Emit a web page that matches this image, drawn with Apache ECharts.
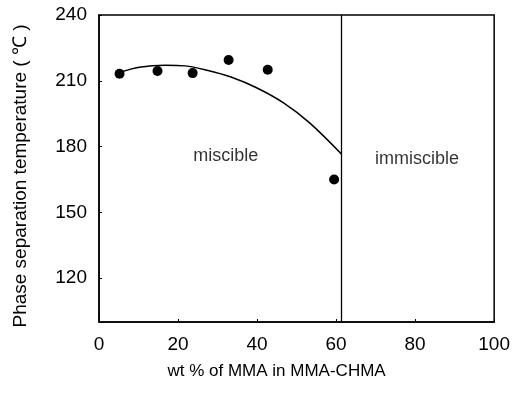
<!DOCTYPE html>
<html style="height: 100%">
<head>
	<meta charset="utf-8">
</head>
<body style="height: 100%; margin: 0; background: #fff">
<div id="container" style="width: 513px; height: 393px"></div>
<script type="text/javascript" src="https://cdn.jsdelivr.net/npm/echarts@6/dist/echarts.min.js"></script>
<script type="text/javascript">
	// measured cloud points (wt% MMA, temperature)
	var pointX = [5.2, 14.8, 23.7, 32.8, 42.7, 59.5];
	var pointY = [213.2, 214.5, 213.5, 219.5, 215, 165];

	// fitted curve
	var curveX = [5.2, 10.2, 16.8, 21.8, 27.6, 33.4, 40.0, 46.7, 53.3, 61.4];
	var curveY = [213.8, 216.2, 217.1, 216.8, 214.7, 211.7, 206.7, 199.9, 190.8, 176.5];

	var boundaryX = 61.4;
	var yTicks = [120, 150, 180, 210, 240];
	var xTicks = [0, 20, 40, 60, 80, 100];

	var regionNames = ['miscible', 'immiscible'];
	var regionX = [32.1, 80.5];
	var regionY = [175.6, 174.2];

	function pairs(xs, ys) {
		var res = [];
		for (var i = 0; i < xs.length; i++) {
			res.push([xs[i], ys[i]]);
		}
		return res;
	}

	var regionData = [];
	for (var i = 0; i < regionNames.length; i++) {
		regionData.push({name: regionNames[i], value: [regionX[i], regionY[i]]});
	}

	var font = 'Liberation Sans';
	var dom = document.getElementById("container");
	var myChart = echarts.init(dom, null, {renderer: 'canvas'});

	var option = {
		animation: false,
		backgroundColor: '#fff',
		grid: {
			left: 99,
			right: 12,
			top: 15,
			bottom: 71,
			show: true,
			borderColor: '#000',
			borderWidth: 1.5
		},
		// y title sits a little below the plot centre in the scan
		graphic: [{
			type: 'text',
			x: 21,
			y: 176,
			rotation: Math.PI / 2,
			style: {
				text: 'Phase separation temperature ( \u2103 )',
				fontFamily: font,
				fontSize: 19,
				fill: '#000',
				align: 'center',
				verticalAlign: 'middle'
			}
		}],
		xAxis: {
			type: 'value',
			min: 0,
			max: 100,
			interval: 20,
			name: 'wt % of MMA in MMA-CHMA',
			nameLocation: 'middle',
			nameGap: 41,
			nameTextStyle: {
				fontFamily: font,
				fontSize: 17,
				color: '#000',
				padding: [0, 40, 0, 0]
			},
			axisLine: {lineStyle: {color: '#000', width: 1.5}},
			axisTick: {inside: true, length: 3, lineStyle: {color: '#000'}, customValues: xTicks},
			axisLabel: {
				fontFamily: font,
				fontSize: 19,
				color: '#000',
				margin: 13,
				customValues: xTicks
			},
			splitLine: {show: false}
		},
		yAxis: {
			type: 'value',
			min: 100,
			max: 240,
			interval: 10,
			axisLine: {lineStyle: {color: '#000', width: 1.5}},
			axisTick: {inside: true, length: 3, lineStyle: {color: '#000'}, customValues: yTicks},
			axisLabel: {
				fontFamily: font,
				fontSize: 19,
				color: '#000',
				margin: 12,
				customValues: yTicks
			},
			splitLine: {show: false}
		},
		series: [
			{
				type: 'line',
				data: pairs(curveX, curveY),
				smooth: 0.35,
				showSymbol: false,
				lineStyle: {color: '#000', width: 1.5},
				markLine: {
					silent: true,
					symbol: ['none', 'none'],
					label: {show: false},
					lineStyle: {color: '#000', width: 1.3, type: 'solid'},
					data: [{xAxis: boundaryX}]
				}
			},
			{
				type: 'scatter',
				data: pairs(pointX, pointY),
				symbolSize: 10,
				itemStyle: {color: '#000', opacity: 1}
			},
			{
				type: 'scatter',
				data: regionData,
				symbolSize: 0,
				label: {
					show: true,
					position: 'inside',
					formatter: '{b}',
					fontFamily: font,
					fontSize: 18,
					color: '#000'
				}
			}
		]
	};

	myChart.setOption(option);
</script>
</body>
</html>
